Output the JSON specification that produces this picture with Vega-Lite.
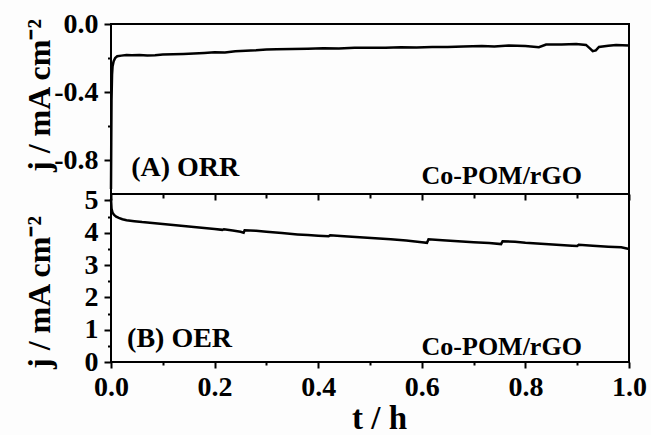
{
  "$schema": "https://vega.github.io/schema/vega-lite/v6.json",
  "background": "#fdfdfd",
  "padding": {"left": 21, "top": 9, "right": 5, "bottom": 2},
  "spacing": 0,
  "bounds": "flush",
  "datasets": {
    "orr": [
      {"t": 0.0, "j": -0.97}, {"t": 0.0005, "j": -0.7}, {"t": 0.001, "j": -0.45}, {"t": 0.002, "j": -0.3},
      {"t": 0.003, "j": -0.25}, {"t": 0.005, "j": -0.22}, {"t": 0.008, "j": -0.2}, {"t": 0.012, "j": -0.19},
      {"t": 0.02, "j": -0.186}, {"t": 0.03, "j": -0.182}, {"t": 0.04, "j": -0.184}, {"t": 0.055, "j": -0.183},
      {"t": 0.07, "j": -0.185}, {"t": 0.085, "j": -0.184}, {"t": 0.1, "j": -0.18}, {"t": 0.12, "j": -0.178},
      {"t": 0.14, "j": -0.176}, {"t": 0.16, "j": -0.173}, {"t": 0.18, "j": -0.17}, {"t": 0.2, "j": -0.166},
      {"t": 0.22, "j": -0.167}, {"t": 0.24, "j": -0.16}, {"t": 0.26, "j": -0.157}, {"t": 0.28, "j": -0.155},
      {"t": 0.3, "j": -0.15}, {"t": 0.32, "j": -0.148}, {"t": 0.35, "j": -0.147}, {"t": 0.38, "j": -0.145},
      {"t": 0.41, "j": -0.143}, {"t": 0.44, "j": -0.144}, {"t": 0.47, "j": -0.14}, {"t": 0.5, "j": -0.139},
      {"t": 0.53, "j": -0.14}, {"t": 0.56, "j": -0.137}, {"t": 0.59, "j": -0.138}, {"t": 0.62, "j": -0.135},
      {"t": 0.65, "j": -0.136}, {"t": 0.68, "j": -0.132}, {"t": 0.716, "j": -0.13}, {"t": 0.74, "j": -0.133},
      {"t": 0.768, "j": -0.127}, {"t": 0.8, "j": -0.13}, {"t": 0.826, "j": -0.137}, {"t": 0.84, "j": -0.121},
      {"t": 0.87, "j": -0.12}, {"t": 0.898, "j": -0.117}, {"t": 0.917, "j": -0.123}, {"t": 0.925, "j": -0.145},
      {"t": 0.93, "j": -0.16}, {"t": 0.936, "j": -0.155}, {"t": 0.942, "j": -0.135}, {"t": 0.96, "j": -0.128},
      {"t": 0.975, "j": -0.123}, {"t": 1.0, "j": -0.127}
    ],
    "oer": [
      {"t": 0.0, "j": 5.05}, {"t": 0.001, "j": 4.75}, {"t": 0.003, "j": 4.62}, {"t": 0.006, "j": 4.55},
      {"t": 0.01, "j": 4.5}, {"t": 0.015, "j": 4.46}, {"t": 0.022, "j": 4.42}, {"t": 0.03, "j": 4.39},
      {"t": 0.045, "j": 4.36}, {"t": 0.06, "j": 4.33}, {"t": 0.08, "j": 4.3}, {"t": 0.1, "j": 4.27},
      {"t": 0.12, "j": 4.24}, {"t": 0.14, "j": 4.21}, {"t": 0.16, "j": 4.18}, {"t": 0.18, "j": 4.15},
      {"t": 0.2, "j": 4.12}, {"t": 0.215, "j": 4.09}, {"t": 0.218, "j": 4.11}, {"t": 0.235, "j": 4.07},
      {"t": 0.25, "j": 4.03}, {"t": 0.256, "j": 4.0}, {"t": 0.258, "j": 4.08}, {"t": 0.28, "j": 4.06},
      {"t": 0.3, "j": 4.03}, {"t": 0.33, "j": 3.99}, {"t": 0.36, "j": 3.95}, {"t": 0.38, "j": 3.93},
      {"t": 0.4, "j": 3.91}, {"t": 0.42, "j": 3.89}, {"t": 0.423, "j": 3.92}, {"t": 0.45, "j": 3.89},
      {"t": 0.48, "j": 3.86}, {"t": 0.51, "j": 3.83}, {"t": 0.54, "j": 3.8}, {"t": 0.57, "j": 3.76},
      {"t": 0.6, "j": 3.71}, {"t": 0.61, "j": 3.69}, {"t": 0.613, "j": 3.8}, {"t": 0.64, "j": 3.77},
      {"t": 0.67, "j": 3.74}, {"t": 0.7, "j": 3.71}, {"t": 0.73, "j": 3.68}, {"t": 0.753, "j": 3.65},
      {"t": 0.756, "j": 3.74}, {"t": 0.78, "j": 3.72}, {"t": 0.8, "j": 3.69}, {"t": 0.83, "j": 3.66},
      {"t": 0.86, "j": 3.63}, {"t": 0.89, "j": 3.6}, {"t": 0.9, "j": 3.59}, {"t": 0.903, "j": 3.63},
      {"t": 0.93, "j": 3.6}, {"t": 0.96, "j": 3.57}, {"t": 0.985, "j": 3.55}, {"t": 1.0, "j": 3.5}
    ]
  },
  "vconcat": [
    {
      "width": 518,
      "height": 170,
      "layer": [
        {
          "data": {"name": "orr"},
          "mark": {"type": "line", "color": "black", "strokeWidth": 2.5},
          "encoding": {
            "x": {"field": "t", "type": "quantitative", "scale": {"domain": [0, 1], "nice": false, "zero": false},
              "axis": {"orient": "bottom", "values": [0, 0.2, 0.4, 0.6, 0.8, 1], "labels": false, "tickSize": 6, "title": null}},
            "y": {"field": "j", "type": "quantitative", "scale": {"domain": [-1, 0], "nice": false, "zero": false},
              "axis": {"orient": "left", "values": [0, -0.4, -0.8], "format": ".1f", "labelExpr": "replace(datum.label, '\u2212', '-')",
                "tickSize": 7, "labelPadding": 6, "title": "j / mA cm\u207b\u00b2", "titleX": -62, "titleY": 71, "titleBaseline": "alphabetic", "titleAngle": -90}}
          }
        },
        {
          "data": {"name": "orr"},
          "mark": {"type": "line", "strokeOpacity": 0},
          "encoding": {
            "x": {"field": "t", "type": "quantitative", "axis": {"orient": "bottom", "values": [0.1, 0.3, 0.5, 0.7, 0.9], "labels": false, "tickSize": 4, "title": null}},
            "y": {"field": "j", "type": "quantitative", "axis": {"orient": "left", "values": [-0.2, -0.6], "labels": false, "tickSize": 3.5, "title": null}}
          }
        },
        {
          "data": {"values": [{"t": 0.039, "j": -0.894, "label": "(A) ORR"}]},
          "mark": {"type": "text", "align": "left", "baseline": "alphabetic", "font": "Liberation Serif", "fontWeight": "bold", "fontSize": 28, "color": "black"},
          "encoding": {
            "x": {"field": "t", "type": "quantitative", "axis": null},
            "y": {"field": "j", "type": "quantitative", "axis": null},
            "text": {"field": "label"}
          }
        },
        {
          "data": {"values": [{"t": 0.909, "j": -0.941, "label": "Co-POM/rGO"}]},
          "mark": {"type": "text", "align": "right", "baseline": "alphabetic", "font": "Liberation Serif", "fontWeight": "bold", "fontSize": 26, "color": "black"},
          "encoding": {
            "x": {"field": "t", "type": "quantitative", "axis": null},
            "y": {"field": "j", "type": "quantitative", "axis": null},
            "text": {"field": "label"}
          }
        }
      ],
      "resolve": {"axis": {"x": "independent", "y": "independent"}}
    },
    {
      "width": 518,
      "height": 168,
      "layer": [
        {
          "data": {"name": "oer"},
          "mark": {"type": "line", "color": "black", "strokeWidth": 2.5},
          "encoding": {
            "x": {"field": "t", "type": "quantitative", "scale": {"domain": [0, 1], "nice": false, "zero": false},
              "axis": {"orient": "bottom", "values": [0, 0.2, 0.4, 0.6, 0.8, 1], "format": ".1f", "tickSize": 6, "labelPadding": 5,
                "title": "t / h", "titleFontSize": 33, "titlePadding": 1, "titleX": 268}},
            "y": {"field": "j", "type": "quantitative", "scale": {"domain": [0, 5.2], "nice": false, "zero": false},
              "axis": {"orient": "left", "values": [0, 1, 2, 3, 4, 5], "format": "d",
                "tickSize": 7, "labelPadding": 6, "title": "j / mA cm\u207b\u00b2", "titleX": -62, "titleY": 98, "titleBaseline": "alphabetic", "titleAngle": -90}}
          }
        },
        {
          "data": {"name": "oer"},
          "mark": {"type": "line", "strokeOpacity": 0},
          "encoding": {
            "x": {"field": "t", "type": "quantitative", "axis": {"orient": "bottom", "values": [0.1, 0.3, 0.5, 0.7, 0.9], "labels": false, "tickSize": 3, "title": null}},
            "y": {"field": "j", "type": "quantitative", "axis": {"orient": "left", "values": [0.5, 1.5, 2.5, 3.5, 4.5], "labels": false, "tickSize": 3.5, "title": null}}
          }
        },
        {
          "data": {"values": [{"t": 0.031, "j": 0.46, "label": "(B) OER"}]},
          "mark": {"type": "text", "align": "left", "baseline": "alphabetic", "font": "Liberation Serif", "fontWeight": "bold", "fontSize": 28, "color": "black"},
          "encoding": {
            "x": {"field": "t", "type": "quantitative", "axis": null},
            "y": {"field": "j", "type": "quantitative", "axis": null},
            "text": {"field": "label"}
          }
        },
        {
          "data": {"values": [{"t": 0.909, "j": 0.22, "label": "Co-POM/rGO"}]},
          "mark": {"type": "text", "align": "right", "baseline": "alphabetic", "font": "Liberation Serif", "fontWeight": "bold", "fontSize": 26, "color": "black"},
          "encoding": {
            "x": {"field": "t", "type": "quantitative", "axis": null},
            "y": {"field": "j", "type": "quantitative", "axis": null},
            "text": {"field": "label"}
          }
        }
      ],
      "resolve": {"axis": {"x": "independent", "y": "independent"}}
    }
  ],
  "config": {
    "view": {"stroke": "black", "strokeWidth": 2},
    "axis": {
      "grid": false, "domain": false, "tickColor": "black", "tickWidth": 2,
      "labelColor": "black", "labelFont": "Liberation Serif", "labelFontSize": 28, "labelFontWeight": "bold",
      "labelPadding": 4, "labelFlush": false, "labelOverlap": false,
      "titleColor": "black", "titleFont": "Liberation Serif", "titleFontSize": 32, "titleFontWeight": "bold"
    }
  }
}
